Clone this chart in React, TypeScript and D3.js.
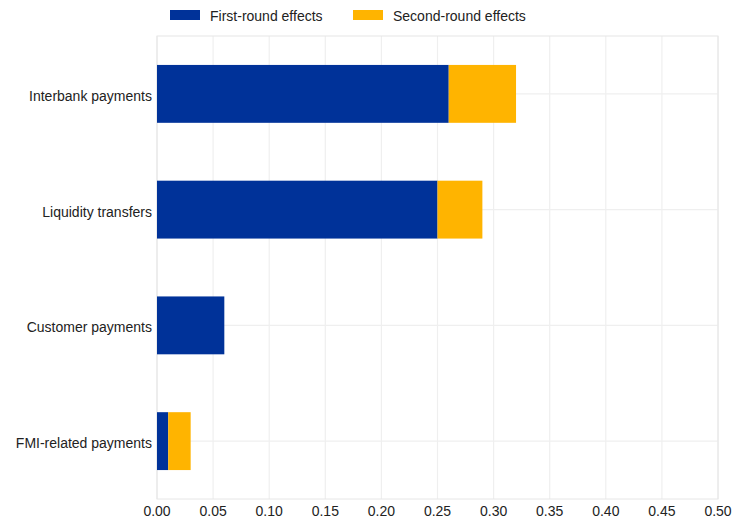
import React from "react";
import * as d3 from "d3";

const categories = ["Interbank payments", "Liquidity transfers", "Customer payments", "FMI-related payments"];
const firstRound = [0.26, 0.25, 0.06, 0.01];
const secondRound = [0.06, 0.04, 0, 0.02];
const seriesNames = ["First-round effects", "Second-round effects"];
const xTicks = [0, 0.05, 0.1, 0.15, 0.2, 0.25, 0.3, 0.35, 0.4, 0.45, 0.5];

const colors = ["#003299", "#FFB400"];

export default function App() {
  const W = 733, H = 518;
  const left = 157, right = 718, top = 36, bottom = 499;
  const x = d3.scaleLinear().domain([0, 0.5]).range([left, right]);
  const y = d3.scaleBand().domain(categories).range([top, bottom]).paddingInner(0.5).paddingOuter(0.25);
  const font = "Liberation Sans, Arial, sans-serif";
  return (
    <svg width={W} height={H} style={{ position: "absolute", left: 0, top: 0 }} fontFamily={font}>
      <rect x={0} y={0} width={W} height={H} fill="#fff" />
      {xTicks.map((t) => (
        <line key={t} x1={x(t)} x2={x(t)} y1={top} y2={bottom} stroke="#efefef" strokeWidth={1.2} />
      ))}
      {categories.map((c) => (
        <line key={c} x1={left} x2={right} y1={y(c)! + y.bandwidth() / 2} y2={y(c)! + y.bandwidth() / 2} stroke="#efefef" strokeWidth={1.2} />
      ))}
      <rect x={left} y={top} width={right - left} height={bottom - top} fill="none" stroke="#e6e6e6" strokeWidth={1} />
      {categories.map((c, i) => (
        <g key={c}>
          <rect x={x(0)} y={y(c)} width={x(firstRound[i]) - x(0)} height={y.bandwidth()} fill={colors[0]} />
          {secondRound[i] > 0 && (
            <rect x={x(firstRound[i])} y={y(c)} width={x(firstRound[i] + secondRound[i]) - x(firstRound[i])} height={y.bandwidth()} fill={colors[1]} />
          )}
          <text x={left - 5} y={y(c)! + y.bandwidth() / 2 + 7} textAnchor="end" fontSize={14} fill="#222">{c}</text>
        </g>
      ))}
      {xTicks.map((t) => (
        <text key={t} x={x(t)} y={bottom + 17} textAnchor="middle" fontSize={14} fill="#222">{t.toFixed(2)}</text>
      ))}
      <g>
        <rect x={170} y={10} width={30} height={10} fill={colors[0]} />
        <text x={210} y={21} fontSize={14} fill="#222">{seriesNames[0]}</text>
        <rect x={353} y={10} width={30} height={10} fill={colors[1]} />
        <text x={393} y={21} fontSize={14} fill="#222">{seriesNames[1]}</text>
      </g>
    </svg>
  );
}
